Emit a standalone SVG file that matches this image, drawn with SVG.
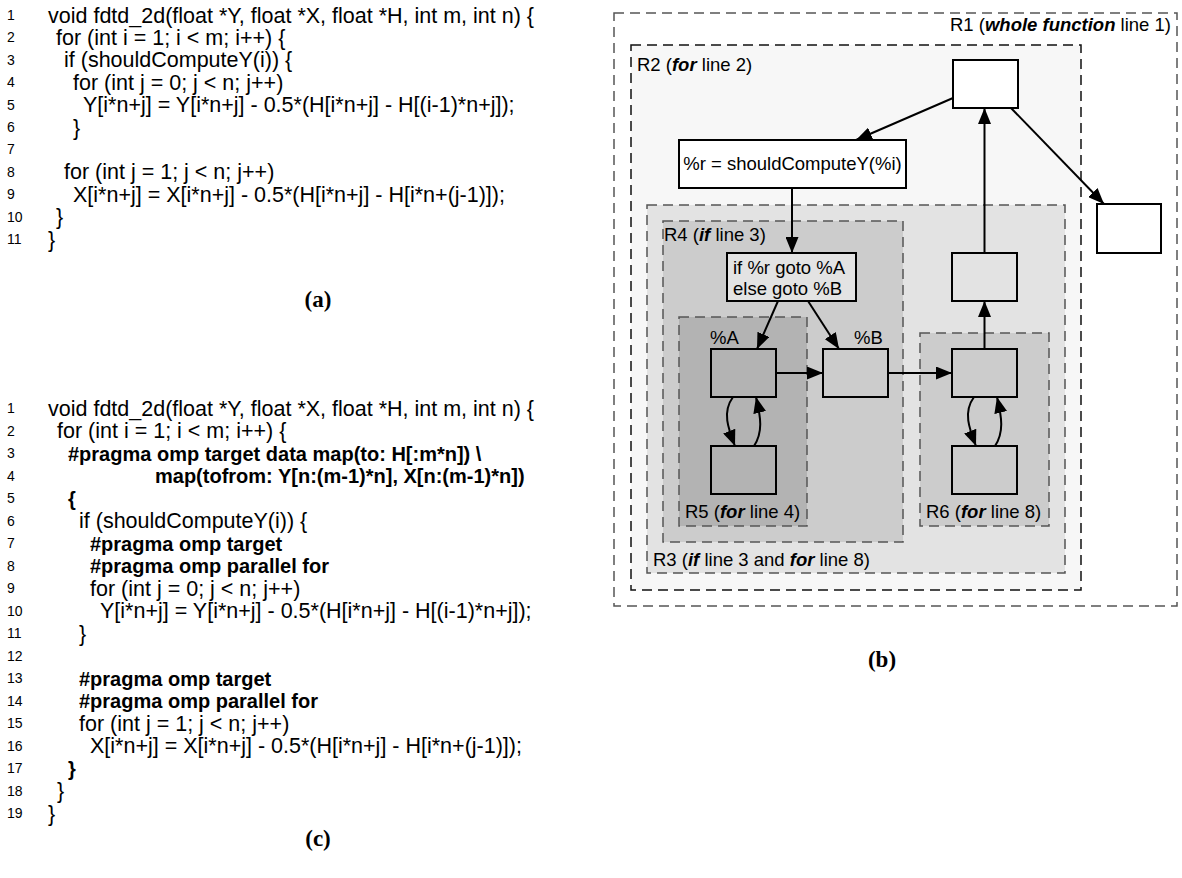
<svg xmlns="http://www.w3.org/2000/svg" width="1182" height="878" viewBox="0 0 1182 878">
<defs>
<marker id="ah" markerUnits="userSpaceOnUse" markerWidth="16" markerHeight="13" refX="16" refY="6.5" orient="auto">
<path d="M0,0 L16,6.5 L0,13 z" fill="#000"/>
</marker>
<style>
.code{font-family:"Liberation Sans",Arial,sans-serif;font-size:21.5px;fill:#000}
.b{font-weight:bold;font-size:20px}
.ln{font-family:"Liberation Sans",Arial,sans-serif;font-size:14px;fill:#000}
.cap{font-family:"Liberation Serif","Times New Roman",serif;font-weight:bold;font-size:23px;text-anchor:middle;fill:#000}
.lbl{font-family:"Liberation Sans",Arial,sans-serif;font-size:18.5px;fill:#000}
.bi{font-weight:bold;font-style:italic}
.node{stroke:#000;stroke-width:2}
.region{stroke-dasharray:10 6;stroke-width:1.5}
.edge{stroke:#000;stroke-width:2;fill:none;marker-end:url(#ah)}
</style>
</defs>
<rect width="1182" height="878" fill="#fff"/>

<g id="code-a">
<text class="ln" x="7" y="20">1</text>
<text class="ln" x="7" y="42">2</text>
<text class="ln" x="7" y="65">3</text>
<text class="ln" x="7" y="87">4</text>
<text class="ln" x="7" y="110">5</text>
<text class="ln" x="7" y="132">6</text>
<text class="ln" x="7" y="154">7</text>
<text class="ln" x="7" y="177">8</text>
<text class="ln" x="7" y="199">9</text>
<text class="ln" x="7" y="222">10</text>
<text class="ln" x="7" y="244">11</text>
<text class="code" x="48" y="22.5">void fdtd_2d(float *Y, float *X, float *H, int m, int n) {</text>
<text class="code" x="56" y="45">for (int i = 1; i &lt; m; i++) {</text>
<text class="code" x="64" y="67">if (shouldComputeY(i)) {</text>
<text class="code" x="73" y="90">for (int j = 0; j &lt; n; j++)</text>
<text class="code" x="83" y="112">Y[i*n+j] = Y[i*n+j] - 0.5*(H[i*n+j] - H[(i-1)*n+j]);</text>
<text class="code" x="73" y="134.5">}</text>
<text class="code" x="64" y="179">for (int j = 1; j &lt; n; j++)</text>
<text class="code" x="73" y="202">X[i*n+j] = X[i*n+j] - 0.5*(H[i*n+j] - H[i*n+(j-1)]);</text>
<text class="code" x="56" y="224">}</text>
<text class="code" x="48" y="246.5">}</text>
<text class="cap" x="318" y="307">(a)</text>
</g>

<g id="code-c">
<text class="ln" x="7" y="413">1</text>
<text class="ln" x="7" y="435.5">2</text>
<text class="ln" x="7" y="458">3</text>
<text class="ln" x="7" y="480.5">4</text>
<text class="ln" x="7" y="503">5</text>
<text class="ln" x="7" y="525.5">6</text>
<text class="ln" x="7" y="548">7</text>
<text class="ln" x="7" y="570.5">8</text>
<text class="ln" x="7" y="593">9</text>
<text class="ln" x="7" y="615.5">10</text>
<text class="ln" x="7" y="638">11</text>
<text class="ln" x="7" y="660.5">12</text>
<text class="ln" x="7" y="683">13</text>
<text class="ln" x="7" y="705.5">14</text>
<text class="ln" x="7" y="728">15</text>
<text class="ln" x="7" y="750.5">16</text>
<text class="ln" x="7" y="773">17</text>
<text class="ln" x="7" y="795.5">18</text>
<text class="ln" x="7" y="818">19</text>
<text class="code" x="48" y="415.5">void fdtd_2d(float *Y, float *X, float *H, int m, int n) {</text>
<text class="code" x="57" y="438">for (int i = 1; i &lt; m; i++) {</text>
<text class="code b" x="68" y="460.5">#pragma omp target data map(to: H[:m*n]) \</text>
<text class="code b" x="155" y="483">map(tofrom: Y[n:(m-1)*n], X[n:(m-1)*n])</text>
<text class="code b" x="68" y="505.5">{</text>
<text class="code" x="79" y="528">if (shouldComputeY(i)) {</text>
<text class="code b" x="90" y="550.5">#pragma omp target</text>
<text class="code b" x="90" y="573">#pragma omp parallel for</text>
<text class="code" x="90" y="595.5">for (int j = 0; j &lt; n; j++)</text>
<text class="code" x="100" y="618">Y[i*n+j] = Y[i*n+j] - 0.5*(H[i*n+j] - H[(i-1)*n+j]);</text>
<text class="code" x="79" y="640.5">}</text>
<text class="code b" x="79" y="685.5">#pragma omp target</text>
<text class="code b" x="79" y="708">#pragma omp parallel for</text>
<text class="code" x="79" y="730.5">for (int j = 1; j &lt; n; j++)</text>
<text class="code" x="90" y="753">X[i*n+j] = X[i*n+j] - 0.5*(H[i*n+j] - H[i*n+(j-1)]);</text>
<text class="code b" x="68" y="775.5">}</text>
<text class="code" x="57" y="798">}</text>
<text class="code" x="48" y="820.5">}</text>
<text class="cap" x="318" y="846">(c)</text>
</g>

<g id="regions">
<g id="R1"><rect class="region" x="614" y="13" width="563" height="593" fill="#fff" stroke="#555"/>
<text class="lbl" x="1171" y="31" text-anchor="end">R1 (<tspan class="bi">whole function</tspan> line 1)</text></g>
<g id="R2"><rect class="region" x="631" y="45" width="450" height="545" fill="#f7f7f7" stroke="#111"/>
<text class="lbl" x="637" y="71">R2 (<tspan class="bi">for</tspan> line 2)</text></g>
<g id="R3"><rect class="region" x="647" y="205" width="418" height="368" fill="#e3e3e3" stroke="#555"/>
<text class="lbl" x="653" y="566">R3 (<tspan class="bi">if</tspan> line 3 and <tspan class="bi">for</tspan> line 8)</text></g>
<g id="R4"><rect class="region" x="663" y="221" width="240" height="321" fill="#cccccc" stroke="#555"/>
<text class="lbl" x="664" y="241">R4 (<tspan class="bi">if</tspan> line 3)</text></g>
<g id="R5"><rect class="region" x="679" y="317" width="128" height="209" fill="#b3b3b3" stroke="#555"/>
<text class="lbl" x="685" y="518">R5 (<tspan class="bi">for</tspan> line 4)</text></g>
<g id="R6"><rect class="region" x="920" y="333" width="129" height="193" fill="#cccccc" stroke="#555"/>
<text class="lbl" x="926" y="518">R6 (<tspan class="bi">for</tspan> line 8)</text></g>
</g>

<g id="nodes">
<g id="n-top"><rect class="node" x="953" y="60" width="65" height="48" fill="#fff"/></g>
<g id="n-exit"><rect class="node" x="1097" y="204" width="64" height="49" fill="#fff"/></g>
<g id="n-call"><rect class="node" x="679" y="140" width="227" height="48" fill="#fff"/>
<text class="lbl" x="792.5" y="170" text-anchor="middle">%r = shouldComputeY(%i)</text></g>
<g id="n-if"><rect class="node" x="727" y="253" width="129" height="48" fill="#e3e3e3"/>
<text class="lbl" x="733" y="274">if %r goto %A</text>
<text class="lbl" x="733" y="295">else goto %B</text></g>
<g id="n-A"><rect class="node" x="711" y="349" width="65" height="48" fill="#b3b3b3"/>
<text class="lbl" x="710" y="344">%A</text></g>
<g id="n-A2"><rect class="node" x="711" y="446" width="65" height="48" fill="#b3b3b3"/></g>
<g id="n-B"><rect class="node" x="823" y="349" width="65" height="48" fill="#cccccc"/>
<text class="lbl" x="854" y="344">%B</text></g>
<g id="n-C"><rect class="node" x="952" y="349" width="65" height="48" fill="#cccccc"/></g>
<g id="n-C2"><rect class="node" x="952" y="446" width="65" height="48" fill="#cccccc"/></g>
<g id="n-latch"><rect class="node" x="952" y="253" width="65" height="48" fill="#e3e3e3"/></g>
</g>

<g id="connectors">
<line class="edge" x1="953" y1="98" x2="856" y2="140"/>
<line class="edge" x1="1011" y1="108" x2="1104" y2="204"/>
<line class="edge" x1="792" y1="188" x2="792" y2="253"/>
<line class="edge" x1="778" y1="301" x2="757" y2="349"/>
<line class="edge" x1="808" y1="301" x2="839" y2="349"/>
<line class="edge" x1="776" y1="373" x2="823" y2="373"/>
<line class="edge" x1="888" y1="373" x2="952" y2="373"/>
<line class="edge" x1="984.5" y1="349" x2="984.5" y2="301"/>
<line class="edge" x1="984.5" y1="253" x2="984.5" y2="108"/>
<path class="edge" d="M733,397 C722,412 728,428 735,446"/>
<path class="edge" d="M754,446 C763,432 761,418 756,397"/>
<path class="edge" d="M974,397 C963,412 969,428 976,446"/>
<path class="edge" d="M995,446 C1004,432 1002,418 997,397"/>
</g>

<text class="cap" x="882" y="667">(b)</text>
</svg>
